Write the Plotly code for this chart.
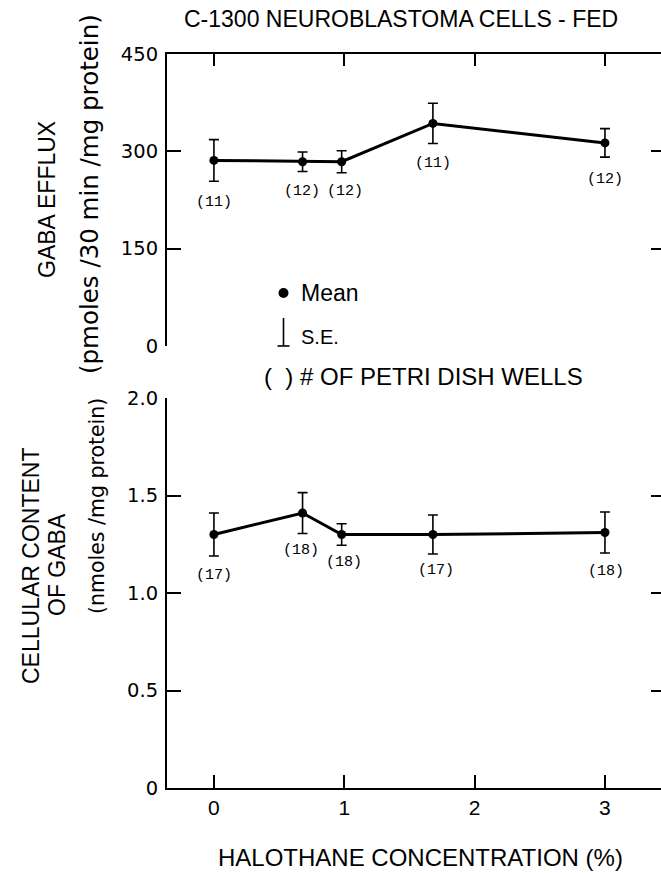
import plotly.graph_objects as go

# ---------------- data ----------------
halothane = [0, 0.68, 0.98, 1.68, 3.0]

efflux_mean = [286, 284, 284, 343, 313]
efflux_se = [32, 15, 17, 31, 22]
efflux_n = ["(11)", "(12)", "(12)", "(11)", "(12)"]

content_mean = [1.30, 1.41, 1.30, 1.30, 1.31]
content_se = [0.11, 0.105, 0.055, 0.10, 0.105]
content_n = ["(17)", "(18)", "(18)", "(17)", "(18)"]

x_ticks = [0, 1, 2, 3]
x_ticklabels = ["0", "1", "2", "3"]
efflux_ticks = [0, 150, 300, 450]
efflux_ticklabels = ["0", "150", "300", "450"]
content_ticks = [0, 0.5, 1.0, 1.5, 2.0]
content_ticklabels = ["0", "0.5", "1.0", "1.5", "2.0"]

# ---------------- layout geometry (pixels) ----------------
W, H = 661, 873
L, R, T, B = 167, 661, 54, 788
PW, PH = R - L, B - T


def px(xp):
    return (xp - L) / PW


def py(yp):
    return (B - yp) / PH


top_dom = [py(346), 1.0]
bot_dom = [0.0, py(398)]

SANS = "Liberation Sans, Arial, sans-serif"
GEO = "DejaVu Sans, sans-serif"
MONO = "Liberation Mono, DejaVu Sans Mono, monospace"

fig = go.Figure()

line_style = dict(color="black", width=3)
marker_style = dict(color="black", size=9)

fig.add_trace(go.Scatter(
    x=halothane, y=efflux_mean, xaxis="x2", yaxis="y2",
    mode="lines+markers", line=line_style, marker=marker_style,
    error_y=dict(type="data", array=efflux_se, visible=True, color="black",
                 thickness=1.6, width=5),
    showlegend=False, hoverinfo="skip"))

fig.add_trace(go.Scatter(
    x=halothane, y=content_mean, xaxis="x", yaxis="y",
    mode="lines+markers", line=line_style, marker=marker_style,
    error_y=dict(type="data", array=content_se, visible=True, color="black",
                 thickness=1.6, width=5),
    showlegend=False, hoverinfo="skip"))

# invisible traces to register right-side tick axes
fig.add_trace(go.Scatter(x=[None], y=[None], xaxis="x2", yaxis="y4",
                         showlegend=False, hoverinfo="skip"))
fig.add_trace(go.Scatter(x=[None], y=[None], xaxis="x", yaxis="y3",
                         showlegend=False, hoverinfo="skip"))

xrange = [-0.36, 3.43]
common_axis = dict(showgrid=False, zeroline=False, linecolor="black",
                   tickcolor="black")

fig.update_layout(
    width=W, height=H,
    margin=dict(l=L, r=W - R, t=T, b=H - B),
    paper_bgcolor="white", plot_bgcolor="white",
    xaxis=dict(domain=[0, 1], anchor="y", range=xrange, showline=True,
               linewidth=2, ticks="inside", ticklen=13, tickwidth=1.5,
               tickvals=x_ticks, ticktext=x_ticklabels,
               tickfont=dict(family=SANS, size=21, color="black"),
               **common_axis),
    yaxis=dict(domain=bot_dom, anchor="x", range=[0, 2], showline=True,
               linewidth=2, ticks="inside", ticklen=14, tickwidth=1.5,
               tickvals=content_ticks, ticktext=content_ticklabels,
               tickfont=dict(family=GEO, size=19.5, color="black"),
               ticklabelstandoff=3,
               **common_axis),
    yaxis3=dict(overlaying="y", side="right", anchor="x", range=[0, 2],
                showline=False, ticks="inside", ticklen=10, tickwidth=1.5,
                tickvals=content_ticks, showticklabels=False,
                **common_axis),
    xaxis2=dict(domain=[0, 1], anchor="y2", side="top", matches="x",
                range=xrange, showline=True, linewidth=2, ticks="inside",
                ticklen=12, tickwidth=1.5, tickvals=x_ticks,
                showticklabels=False, **common_axis),
    yaxis2=dict(domain=top_dom, anchor="x2", range=[0, 450], showline=True,
                linewidth=2, ticks="inside", ticklen=14, tickwidth=1.5,
                tickvals=efflux_ticks, ticktext=efflux_ticklabels,
                tickfont=dict(family=GEO, size=19.5, color="black"),
                ticklabelstandoff=3,
                **common_axis),
    yaxis4=dict(overlaying="y2", side="right", anchor="x2", range=[0, 450],
                showline=False, ticks="inside", ticklen=10, tickwidth=1.5,
                tickvals=efflux_ticks, showticklabels=False,
                **common_axis),
)

ann = []


def text(xp, yp, s, size=18, family=SANS, angle=0, xanchor="center"):
    ann.append(dict(x=px(xp), y=py(yp), xref="paper", yref="paper", text=s,
                    showarrow=False, textangle=angle, xanchor=xanchor,
                    yanchor="middle",
                    font=dict(family=family, size=size, color="black")))


text(401, 19, "C-1300 NEUROBLASTOMA CELLS - FED", size=23)
text(420, 857, "HALOTHANE CONCENTRATION (%)", size=24)
text(47, 200, "GABA EFFLUX", size=23, angle=-90)
text(89, 194, "(pmoles /30 min /mg protein)", size=24.5, family=GEO, angle=-90)
text(31, 566, "CELLULAR CONTENT", size=23, angle=-90)
text(57, 565, "OF GABA", size=23, angle=-90)
text(97, 506, "(nmoles /mg protein)", size=20.5, family=GEO, angle=-90)
text(299, 293, "Mean", size=23, xanchor="left")
text(299, 337, "S.E.", size=20, xanchor="left")
text(262, 376, "(  ) # OF PETRI DISH WELLS", size=24, xanchor="left")

# sample-size labels beneath points
top_off = [42, 30, 30, 40, 37]
top_xs = [0, -1, 3, 0, 0]
for xv, yv, lab, dy, dx in zip(halothane, efflux_mean, efflux_n, top_off, top_xs):
    ann.append(dict(x=xv, y=yv, xref="x2", yref="y2", text=lab,
                    showarrow=False, yshift=-dy, xshift=dx,
                    font=dict(family=MONO, size=15, color="black")))

bot_off = [41, 37, 28, 36, 39]
bot_xs = [0, -2, 2, 3, 1]
for xv, yv, lab, dy, dx in zip(halothane, content_mean, content_n, bot_off, bot_xs):
    ann.append(dict(x=xv, y=yv, xref="x", yref="y", text=lab,
                    showarrow=False, yshift=-dy, xshift=dx,
                    font=dict(family=MONO, size=15, color="black")))

fig.update_layout(annotations=ann)

# legend symbols (bullet and S.E. glyph)
shapes = [
    dict(type="circle", xref="paper", yref="paper",
         x0=px(278.5), x1=px(288.5), y0=py(298), y1=py(288),
         fillcolor="black", line=dict(color="black", width=0)),
    dict(type="line", xref="paper", yref="paper",
         x0=px(283.5), x1=px(283.5), y0=py(318), y1=py(346),
         line=dict(color="black", width=1.6)),
    dict(type="line", xref="paper", yref="paper",
         x0=px(277.5), x1=px(289.5), y0=py(346), y1=py(346),
         line=dict(color="black", width=1.6)),
]
fig.update_layout(shapes=shapes)

fig.write_html("out.html",
               config={"displayModeBar": False},
               post_script="document.body.style.margin='0';"
                           "document.body.style.overflow='hidden';")
